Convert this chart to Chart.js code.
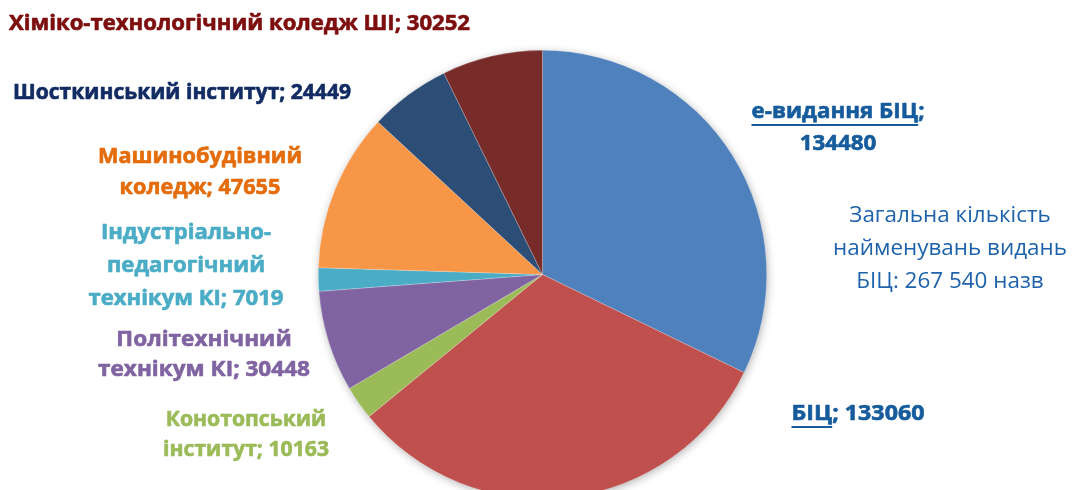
<!DOCTYPE html>
<html>
<head>
<meta charset="utf-8">
<script src="https://cdn.jsdelivr.net/npm/chart.js@4"></script>
<style>
  html, body { margin: 0; padding: 0; overflow: hidden; background: #fff; }
  #wrap { width: 1074px; height: 500px; }
</style>
</head>
<body>
<div id="wrap"><canvas id="myChart"></canvas></div>
<script>
// slices clockwise from 12 o'clock
const categories = [
  'е-видання БІЦ',
  'БІЦ',
  'Конотопський інститут',
  'Політехнічний технікум КІ',
  'Індустріально-педагогічний технікум КІ',
  'Машинобудівний коледж',
  'Шосткинський інститут',
  'Хіміко-технологічний коледж ШІ'
];
const values = [134480, 133060, 10163, 30448, 7019, 47655, 24449, 30252];
const sliceColors = ['#4F81BD', '#C0504D', '#9BBB59', '#8064A2', '#4BACC6', '#F79646', '#2C4D75', '#772C2A'];
const totalNote = ['Загальна кількість', 'найменувань видань', 'БІЦ: 267 540 назв'];

// label layout (where each text block sits on the page)
const labelLayout = [
  { i: 0, lines: ['е-видання БІЦ;', String(values[0])], cx: 838, ys: [112, 144], w: 173, color: '#165C9C', underline: 'е-видання БІЦ' },
  { i: 1, lines: ['БІЦ; ' + values[1]], cx: 858, ys: [414], w: 133, color: '#165C9C', underline: 'БІЦ' },
  { i: 2, lines: ['Конотопський', 'інститут; ' + values[2]], cx: 246, ys: [420, 450], w: 166, color: '#9BBB59' },
  { i: 3, lines: ['Політехнічний', 'технікум КІ; ' + values[3]], cx: 204, ys: [340, 370], w: 212, color: '#8064A2' },
  { i: 4, lines: ['Індустріально-', 'педагогічний', 'технікум КІ; ' + values[4]], cx: 186, ys: [233, 266, 299], w: 195, color: '#4BACC6' },
  { i: 5, lines: ['Машинобудівний', 'коледж; ' + values[5]], cx: 200, ys: [157, 188], w: 204, color: '#E46C0A' },
  { i: 6, lines: [categories[6] + '; ' + values[6]], left: 13, ys: [93], w: 338, color: '#122C63' },
  { i: 7, lines: [categories[7] + '; ' + values[7]], left: 9, ys: [24], w: 461, color: '#7C0E0E' }
];

const pieShadow = {
  id: 'pieShadow',
  beforeDatasetsDraw(chart) {
    const arc = chart.getDatasetMeta(0).data[0];
    if (!arc) return;
    const ctx = chart.ctx;
    ctx.save();
    ctx.shadowColor = 'rgba(0,0,0,0.35)';
    ctx.shadowBlur = 10;
    ctx.shadowOffsetX = 1;
    ctx.shadowOffsetY = 2;
    ctx.fillStyle = '#ffffff';
    ctx.beginPath();
    ctx.arc(arc.x, arc.y, arc.outerRadius - 1, 0, Math.PI * 2);
    ctx.fill();
    ctx.restore();
  }
};

function drawBlock(ctx, lines, ys, opts) {
  ctx.font = opts.font;
  ctx.fillStyle = opts.color;
  ctx.strokeStyle = opts.color;
  ctx.lineWidth = opts.stroke || 0;
  ctx.lineJoin = 'round';
  ctx.textBaseline = 'middle';
  const widest = Math.max(...lines.map(l => ctx.measureText(l).width));
  const s = opts.w / widest;
  lines.forEach((line, k) => {
    const lw = ctx.measureText(line).width * s;
    const x0 = opts.left !== undefined ? opts.left : opts.cx - lw / 2;
    ctx.save();
    ctx.translate(x0, ys[k]);
    ctx.scale(s, 1);
    ctx.textAlign = 'left';
    ctx.fillText(line, 0, 0);
    if (opts.stroke) ctx.strokeText(line, 0, 0);
    ctx.restore();
    if (k === 0 && opts.underline) {
      const uw = ctx.measureText(opts.underline).width * s;
      ctx.fillRect(x0, ys[k] + 12, uw, 2);
    }
  });
}

const pieLabels = {
  id: 'pieLabels',
  afterDraw(chart) {
    const ctx = chart.ctx;
    ctx.save();
    labelLayout.forEach(l => {
      drawBlock(ctx, l.lines, l.ys, {
        font: 'bold 21px "Open Sans"', color: l.color, w: l.w, stroke: 0.6,
        cx: l.cx, left: l.left, underline: l.underline
      });
    });
    drawBlock(ctx, totalNote, [216, 249, 282], {
      font: '22px "Open Sans"', color: '#1D62AA', w: 234, cx: 950
    });
    ctx.restore();
  }
};

new Chart(document.getElementById('myChart'), {
  type: 'pie',
  data: {
    labels: categories,
    datasets: [{
      data: values,
      backgroundColor: sliceColors,
      borderWidth: 0.6,
      borderColor: 'rgba(255,255,255,0.35)',
      hoverOffset: 0
    }]
  },
  options: {
    responsive: true,
    maintainAspectRatio: false,
    animation: false,
    events: [],
    layout: { padding: { top: 50, left: 318, right: 307, bottom: 1 } },
    plugins: {
      legend: { display: false },
      tooltip: { enabled: false }
    }
  },
  plugins: [pieShadow, pieLabels]
});
</script>
</body>
</html>
